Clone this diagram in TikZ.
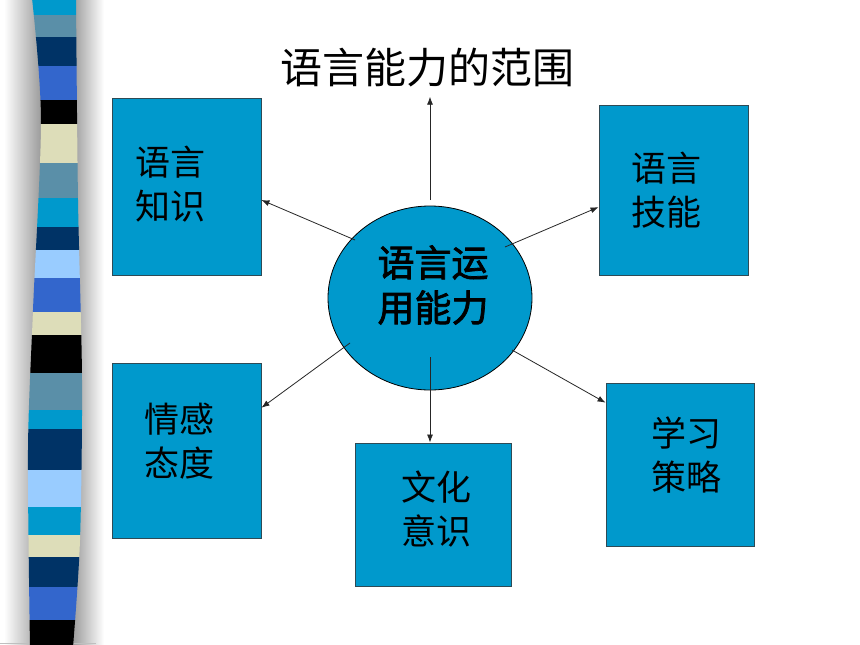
\documentclass[tikz,border=0pt]{standalone}
\usepackage{fontspec}
\newfontfamily\cjk[AutoFakeBold=2]{Noto Sans CJK SC}
\usetikzlibrary{arrows.meta,calc,shapes.geometric}
\definecolor{cyanb}{HTML}{0099CC}
\definecolor{steel}{HTML}{5A8FA8}
\definecolor{navy}{HTML}{003366}
\definecolor{blueb}{HTML}{3366CC}
\definecolor{beige}{HTML}{DDDDB9}
\definecolor{lightb}{HTML}{99CCFF}
\definecolor{boxline}{HTML}{2E4A55}
\tikzset{
  box/.style={draw=boxline,line width=0.9pt,fill=cyanb,rectangle,inner sep=0pt},
  boxtext/.style={font=\cjk\fontsize{35}{44}\selectfont,align=center,inner sep=0pt},
  arr/.style={draw=black!85,line width=0.8pt,-{Latex[length=8pt,width=6pt]}},
}
\begin{document}
\begin{tikzpicture}[x=1pt,y=-1pt]
\useasboundingbox (0,0) rectangle (860,645);
\fill[white] (0,0) rectangle (860,645);
% stripe shadow
\shade[left color=white,right color=black!40] (4,0) rectangle (42,645);
\shade[left color=black!40,right color=white] (72,0) rectangle (104,645);
\draw[black!25,line width=1pt] (0,643) -- (96,643);
% stripe
\begin{scope}
\clip plot[smooth] coordinates {(32,-2)(41,120)(33,310)(28,450)(30,647)} -- plot[smooth] coordinates {(73,647)(80,540)(82,380)(78,200)(76,-2)} -- cycle;
\foreach \a/\b/\c in {0/15/cyanb,15/37/steel,37/66/navy,66/100/blueb,100/124/black,124/163/beige,163/198/steel,198/227/cyanb,227/250/navy,250/278/lightb,278/312/blueb,312/335/beige,335/373/black,373/410/steel,410/429/cyanb,429/470/navy,470/507/lightb,507/535/cyanb,535/557/beige,557/587/navy,587/620/blueb,620/646/black}
  \fill[\c] (20,\a) rectangle (90,\b);
\end{scope}
% title
\node[font=\cjk\fontsize{42}{50}\selectfont,inner sep=0pt] (title) at (427,68) {语言能力的范围};
% center ellipse
\node[ellipse,draw=black,line width=0.8pt,fill=cyanb,minimum width=204pt,minimum height=184pt,inner sep=0pt] (c) at (430,298) {};
\node[font=\cjk\bfseries\fontsize{37}{45}\selectfont,align=center,inner sep=0pt] (ct) at (433,285) {语言运\\用能力};
% boxes
\node[box,minimum width=149pt,minimum height=177pt] (b1) at (186.5,186.5) {};
\node[box,minimum width=149pt,minimum height=170pt] (b2) at (673.5,190) {};
\node[box,minimum width=149pt,minimum height=175pt] (b3) at (186.5,450.5) {};
\node[box,minimum width=156pt,minimum height=143pt] (b4) at (433,514.5) {};
\node[box,minimum width=148pt,minimum height=163pt] (b5) at (680,464.5) {};
\node[boxtext] (t1) at (170,184) {语言\\知识};
\node[boxtext] (t2) at (666,190) {语言\\技能};
\node[boxtext] (t3) at (179,441) {情感\\态度};
\node[boxtext] (t4) at (436,509) {文化\\意识};
\node[boxtext] (t5) at (686,455) {学习\\策略};
% connector start points inside the ellipse
\coordinate (s0) at (430,200);
\coordinate (s1) at (355,240);
\coordinate (s2) at (505,247);
\coordinate (s3) at (350,343);
\coordinate (s4) at (430,357);
\coordinate (s5) at (512,350);
\draw[arr] (s0) -- ($(s0 |- title.south)+(0,9)$);
\draw[arr] (s1) -- ($(b1.north east)!0.576!(b1.south east)$);
\draw[arr] (s2) -- ($(b2.north west)!0.6!(b2.south west)$);
\draw[arr] (s3) -- ($(b3.north east)!0.257!(b3.south east)$);
\draw[arr] (s4) -- (s4 |- b4.north);
\draw[arr] (s5) -- ($(b5.north west)!0.123!(b5.south west)$);
\end{tikzpicture}
\end{document}
